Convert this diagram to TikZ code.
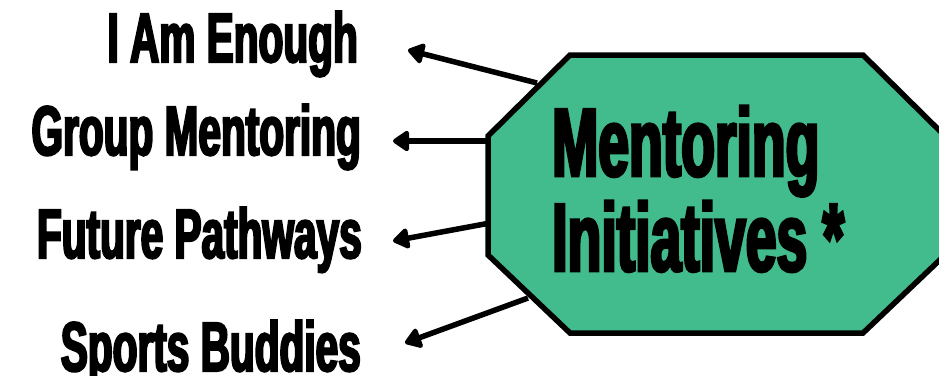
\documentclass[tikz,border=0pt]{standalone}
\usepackage{fontspec}
\usepackage{tikz}
\usetikzlibrary{arrows.meta}
\newfontfamily\hubfont{Liberation Sans}[FakeStretch=0.57, FakeBold=3]
\newfontfamily\lblfont{Liberation Sans}[FakeStretch=0.58, FakeBold=3]
\definecolor{mentorgreen}{HTML}{43BC8D}

\begin{document}
\begin{tikzpicture}[x=1pt, y=-1pt, hub/.style={inner sep=0pt, anchor=base west, font=\hubfont\bfseries\fontsize{97}{95}\selectfont}, lbl/.style={inner sep=0pt, anchor=base east, font=\lblfont\bfseries\fontsize{70}{70}\selectfont}, n/.style={-{Triangle[length=18pt, width=23pt, round]}, line width=5.5pt}]
                \useasboundingbox (0,0) rectangle (939,375);
                % labels
                \node[lbl] (enough) at (358,62) {I Am Enough};
                \node[lbl] (group) at (361,155) {Group Mentoring};
                \node[lbl] (future) at (362,258) {Future Pathways};
                \node[lbl] (sports) at (361,371) {Sports Buddies};
                % arrow ends
                \coordinate (s1) at (537,83);   \coordinate (t1) at (408,50);
                \coordinate (s2) at (490,141);  \coordinate (t2) at (393,141);
                \coordinate (s3) at (490,223);  \coordinate (t3) at (393,241);
                \coordinate (s4) at (528,298);  \coordinate (t4) at (405,343);
                % edges
                \draw [n] (s1) -- (t1);
                \draw [n] (s2) -- (t2);
                \draw [n] (s3) -- (t3);
                \draw [n] (s4) -- (t4);
                % octagon
                \draw [fill=mentorgreen, line width=5.5pt] (570,55) -- (863,55) -- (945,136) -- (945,255) -- (863,333) -- (570,333) -- (488,255) -- (488,136) -- cycle;
                \node[hub] (mentoring) at (552,176) {Mentoring};
                \node[hub] (initiatives) at (552,271) {Initiatives *};
            \end{tikzpicture}
\end{document}
